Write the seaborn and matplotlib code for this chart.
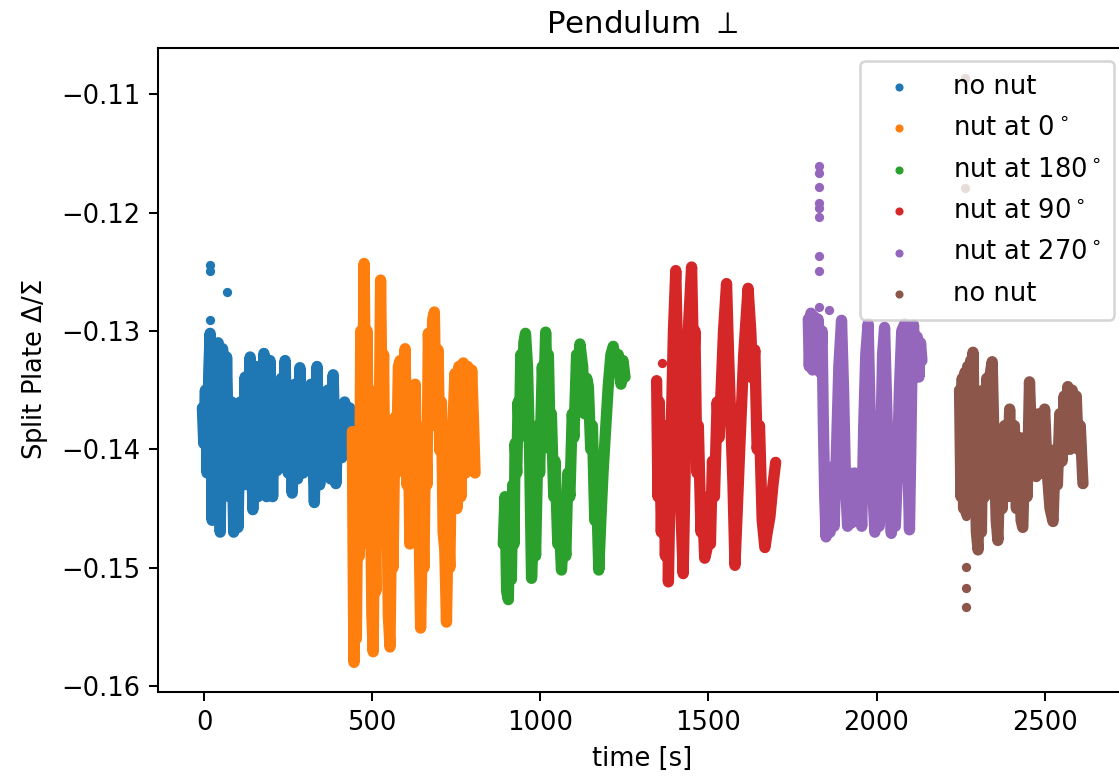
import matplotlib
matplotlib.use("Agg")
import matplotlib.pyplot as plt
import seaborn as sns
import pandas as pd

# ---------------- data ----------------
labels = ["no nut", "nut at $0^\\circ$", "nut at $180^\\circ$",
          "nut at $90^\\circ$", "nut at $270^\\circ$", "no nut"]

# segment 1: no nut
t_no_nut_1 = [-5, -1, 4, 9, 14, 18, 24, 30, 36, 42, 48, 55, 62, 67, 75, 82, 88, 95, 101, 108,
              116, 122, 130, 137, 145, 152, 160, 166, 172, 178, 186, 196, 204, 210, 217, 230,
              236, 241, 250, 256, 262, 270, 278, 285, 295, 302, 309, 318, 328, 336, 344, 352,
              360, 368, 376, 384, 392, 400, 410, 418, 428, 433, 437]
y_no_nut_1 = [-0.1365, -0.1395, -0.1350, -0.1420, -0.1335, -0.1302, -0.1460, -0.1325, -0.1450,
              -0.1310, -0.1470, -0.1315, -0.1430, -0.1322, -0.1440, -0.1360, -0.1470, -0.1375,
              -0.1466, -0.1360, -0.1430, -0.1339, -0.1430, -0.1322, -0.1451, -0.1330, -0.1440,
              -0.1330, -0.1434, -0.1319, -0.1440, -0.1325, -0.1440, -0.1345, -0.1418, -0.1340,
              -0.1412, -0.1325, -0.1420, -0.1350, -0.1437, -0.1345, -0.1425, -0.1331, -0.1420,
              -0.1355, -0.1415, -0.1345, -0.1445, -0.1330, -0.1430, -0.1356, -0.1415, -0.1350,
              -0.1425, -0.1337, -0.1429, -0.1365, -0.1407, -0.1360, -0.1404, -0.1365, -0.1395]
t_no_nut_1_iso = [18, 19, 19, 67]
y_no_nut_1_iso = [-0.1244, -0.1249, -0.1291, -0.1267]

# segment 2: nut at 0
t_nut_0 = [441, 444, 446, 450, 453, 458, 462, 466, 470, 476, 481, 485, 490, 494, 499, 503, 507,
           511, 515, 519, 525, 530, 534, 539, 543, 548, 553, 558, 562, 568, 572, 578, 583, 590,
           595, 598, 603, 607, 612, 617, 622, 628, 633, 637, 644, 650, 654, 659, 663, 667, 674,
           680, 685, 690, 696, 701, 706, 711, 716, 721, 726, 731, 736, 741, 746, 752, 758, 764,
           771, 778, 784, 790, 796, 801, 806]
y_nut_0 = [-0.1385, -0.1520, -0.1580, -0.1450, -0.1560, -0.1400, -0.1490, -0.1300, -0.1420,
           -0.1243, -0.1380, -0.1300, -0.1480, -0.1400, -0.1540, -0.1571, -0.1450, -0.1520,
           -0.1350, -0.1450, -0.1257, -0.1380, -0.1320, -0.1480, -0.1420, -0.1540, -0.1567,
           -0.1450, -0.1500, -0.1373, -0.1420, -0.1330, -0.1325, -0.1400, -0.1330, -0.1315,
           -0.1430, -0.1360, -0.1480, -0.1350, -0.1460, -0.1345, -0.1440, -0.1415, -0.1551,
           -0.1460, -0.1500, -0.1380, -0.1430, -0.1302, -0.1350, -0.1290, -0.1284, -0.1380,
           -0.1316, -0.1401, -0.1360, -0.1470, -0.1485, -0.1546, -0.1460, -0.1500, -0.1400,
           -0.1373, -0.1336, -0.1450, -0.1330, -0.1440, -0.1327, -0.1420, -0.1330, -0.1400,
           -0.1333, -0.1373, -0.1420]

# segment 3: nut at 180
t_nut_180 = [890, 895, 900, 905, 909, 914, 918, 922, 925, 930, 934, 938, 942, 946, 951, 956,
             962, 968, 974, 982, 986, 994, 998, 1006, 1010, 1016, 1020, 1024, 1030, 1033, 1040,
             1044, 1052, 1056, 1063, 1070, 1076, 1082, 1088, 1095, 1100, 1108, 1113, 1118,
             1126, 1132, 1138, 1143, 1150, 1155, 1162, 1168, 1174, 1180, 1187, 1195, 1202,
             1210, 1217, 1225, 1232, 1240, 1246, 1252]
y_nut_180 = [-0.1480, -0.1440, -0.1520, -0.1527, -0.1450, -0.1510, -0.1430, -0.1480, -0.1395,
             -0.1420, -0.1360, -0.1390, -0.1320, -0.1360, -0.1310, -0.1302, -0.1330, -0.1400,
             -0.1509, -0.1450, -0.1490, -0.1380, -0.1420, -0.1330, -0.1360, -0.1301, -0.1340,
             -0.1320, -0.1400, -0.1370, -0.1440, -0.1410, -0.1480, -0.1460, -0.1502, -0.1470,
             -0.1490, -0.1420, -0.1440, -0.1370, -0.1390, -0.1320, -0.1340, -0.1311, -0.1330,
             -0.1370, -0.1340, -0.1347, -0.1400, -0.1380, -0.1460, -0.1440, -0.1502, -0.1460,
             -0.1418, -0.1380, -0.1347, -0.1320, -0.1313, -0.1330, -0.1320, -0.1345, -0.1325,
             -0.1339]

# segment 4: nut at 90
t_nut_90 = [1346, 1350, 1354, 1360, 1366, 1372, 1378, 1381, 1388, 1396, 1403, 1410, 1418, 1425,
            1432, 1440, 1450, 1456, 1460, 1466, 1470, 1478, 1482, 1489, 1495, 1500, 1506, 1512,
            1518, 1526, 1532, 1545, 1554, 1560, 1566, 1573, 1579, 1586, 1593, 1605, 1618, 1626,
            1632, 1638, 1645, 1652, 1660, 1668, 1675, 1683, 1692, 1700]
y_nut_90 = [-0.1342, -0.1440, -0.1360, -0.1470, -0.1380, -0.1490, -0.1400, -0.1512, -0.1400,
            -0.1300, -0.1249, -0.1350, -0.1450, -0.1505, -0.1400, -0.1300, -0.1246, -0.1330,
            -0.1300, -0.1420, -0.1380, -0.1470, -0.1440, -0.1492, -0.1485, -0.1440, -0.1480,
            -0.1410, -0.1440, -0.1360, -0.1390, -0.1300, -0.1260, -0.1320, -0.1370, -0.1429,
            -0.1498, -0.1450, -0.1401, -0.1320, -0.1264, -0.1300, -0.1340, -0.1316, -0.1400,
            -0.1380, -0.1460, -0.1483, -0.1470, -0.1457, -0.1430, -0.1411]
t_nut_90_iso = [1363]
y_nut_90_iso = [-0.1327]

# segment 5: nut at 270
t_nut_270 = [1797, 1800, 1805, 1810, 1815, 1820, 1826, 1832, 1838, 1842, 1846, 1850, 1856, 1862,
             1868, 1874, 1881, 1888, 1896, 1902, 1908, 1914, 1920, 1927, 1935, 1942, 1950, 1956,
             1962, 1968, 1975, 1982, 1990, 1995, 2002, 2008, 2014, 2018, 2024, 2032, 2038, 2044,
             2050, 2056, 2062, 2068, 2075, 2084, 2090, 2094, 2098, 2102, 2106, 2110, 2116, 2121,
             2126, 2131, 2135]
y_nut_270 = [-0.1290, -0.1330, -0.1285, -0.1333, -0.1288, -0.1330, -0.1290, -0.1335, -0.1300,
             -0.1380, -0.1440, -0.1474, -0.1420, -0.1470, -0.1415, -0.1465, -0.1400, -0.1330,
             -0.1291, -0.1350, -0.1429, -0.1465, -0.1420, -0.1462, -0.1420, -0.1460, -0.1425,
             -0.1465, -0.1380, -0.1320, -0.1294, -0.1380, -0.1440, -0.1470, -0.1430, -0.1465,
             -0.1380, -0.1320, -0.1297, -0.1380, -0.1440, -0.1471, -0.1430, -0.1465, -0.1420,
             -0.1350, -0.1300, -0.1294, -0.1340, -0.1420, -0.1468, -0.1400, -0.1320, -0.1295,
             -0.1330, -0.1305, -0.1339, -0.1310, -0.1325]
t_nut_270_iso = [1829, 1829, 1829, 1829, 1829, 1829, 1829, 1829, 1829, 1858]
y_nut_270_iso = [-0.1161, -0.1167, -0.1178, -0.1192, -0.1196, -0.1204, -0.1237, -0.1249,
                 -0.1280, -0.1282]

# segment 6: no nut
t_no_nut_2 = [2247, 2251, 2255, 2259, 2263, 2267, 2271, 2275, 2280, 2284, 2287, 2292, 2297, 2302,
              2307, 2312, 2317, 2322, 2328, 2334, 2339, 2344, 2350, 2356, 2361, 2368, 2374, 2381,
              2388, 2396, 2404, 2410, 2416, 2424, 2430, 2435, 2442, 2448, 2455, 2462, 2468, 2475,
              2482, 2490, 2500, 2508, 2516, 2525, 2532, 2538, 2545, 2552, 2558, 2564, 2569, 2576,
              2582, 2588, 2594, 2600, 2606, 2614]
y_no_nut_2 = [-0.1350, -0.1440, -0.1340, -0.1450, -0.1335, -0.1454, -0.1330, -0.1440, -0.1325,
              -0.1430, -0.1318, -0.1400, -0.1470, -0.1485, -0.1380, -0.1470, -0.1350, -0.1440,
              -0.1340, -0.1430, -0.1335, -0.1326, -0.1400, -0.1460, -0.1477, -0.1400, -0.1450,
              -0.1380, -0.1440, -0.1366, -0.1440, -0.1380, -0.1450, -0.1390, -0.1460, -0.1466,
              -0.1390, -0.1440, -0.1343, -0.1400, -0.1380, -0.1423, -0.1370, -0.1420, -0.1366,
              -0.1420, -0.1450, -0.1461, -0.1400, -0.1430, -0.1370, -0.1410, -0.1355, -0.1400,
              -0.1347, -0.1400, -0.1350, -0.1390, -0.1355, -0.1400, -0.1380, -0.1429]
t_no_nut_2_iso = [2262, 2263, 2265, 2265, 2265, 2265]
y_no_nut_2_iso = [-0.1086, -0.1179, -0.1456, -0.1499, -0.1517, -0.1533]

x_ticks = [0, 500, 1000, 1500, 2000, 2500]
y_ticks = [-0.16, -0.15, -0.14, -0.13, -0.12, -0.11]

# ---------------- figure ----------------
DPI = 185
fig = plt.figure(figsize=(1119 / DPI, 776 / DPI), dpi=DPI)
ax = fig.add_axes([158 / 1119, 1 - 692 / 776, (1127 - 158) / 1119, (692 - 48) / 776])

palette = sns.color_palette("tab10")
segments = [
    (t_no_nut_1, y_no_nut_1, t_no_nut_1_iso, y_no_nut_1_iso),
    (t_nut_0, y_nut_0, [], []),
    (t_nut_180, y_nut_180, [], []),
    (t_nut_90, y_nut_90, t_nut_90_iso, y_nut_90_iso),
    (t_nut_270, y_nut_270, t_nut_270_iso, y_nut_270_iso),
    (t_no_nut_2, y_no_nut_2, t_no_nut_2_iso, y_no_nut_2_iso),
]

MS = 10       # marker area (pt^2)
LW = 4.4      # width of the dense sample band (pt)

for i, (tt, yy, ti, yi) in enumerate(segments):
    col = palette[i]
    df = pd.DataFrame({"t": tt, "y": yy})
    sns.lineplot(data=df, x="t", y="y", ax=ax, color=col, lw=LW, estimator=None,
                 errorbar=None, sort=False, legend=False,
                 solid_capstyle="round", solid_joinstyle="round")
    sns.scatterplot(data=df, x="t", y="y", ax=ax, color=col, s=MS, linewidth=0,
                    label=labels[i])
    if len(ti):
        di = pd.DataFrame({"t": ti, "y": yi})
        sns.scatterplot(data=di, x="t", y="y", ax=ax, color=col, s=MS * 1.3, linewidth=0,
                        legend=False)

ax.set_xlim(-137, 2745)
ax.set_ylim(-0.1605, -0.1061)
ax.set_xticks(x_ticks)
ax.set_yticks(y_ticks)
ax.set_xlabel("time [s]")
ax.set_ylabel("Split Plate $\\Delta/\\Sigma$")
ax.set_title("Pendulum $\\perp$")
ax.legend(loc="upper right", labelspacing=0.6, borderpad=0.5, handletextpad=1.1)

fig.savefig("out.png", dpi=DPI)
